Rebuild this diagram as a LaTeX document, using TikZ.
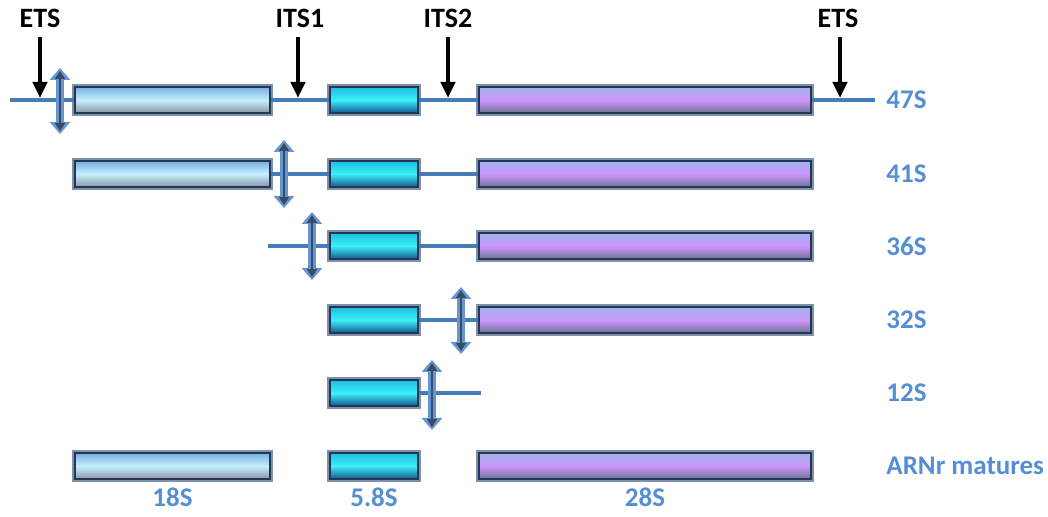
\documentclass[tikz,border=0pt]{standalone}
\usepackage{fontspec}
\setmainfont{Carlito}
\usetikzlibrary{arrows.meta, positioning}
\definecolor{cLine}{RGB}{70,125,185}
\definecolor{cLabel}{RGB}{85,142,213}
\definecolor{cEdge}{RGB}{35,55,85}
\definecolor{cRim}{RGB}{125,145,170}
\definecolor{cCleave}{RGB}{100,150,210}
\definecolor{cCore}{RGB}{55,75,100}
\definecolor{cTopA}{RGB}{120,175,225}
\definecolor{cMidA}{RGB}{195,240,255}
\definecolor{cBotA}{RGB}{140,148,165}
\definecolor{cTopB}{RGB}{30,190,225}
\definecolor{cMidB}{RGB}{60,240,248}
\definecolor{cBotB}{RGB}{20,85,145}
\definecolor{cTopC}{RGB}{160,180,235}
\definecolor{cMidC}{RGB}{205,150,252}
\definecolor{cBotC}{RGB}{110,115,150}
\tikzset{
	rbox/.style   ={rectangle, draw=cEdge, line width=1pt, minimum height=13pt, inner sep=0pt, preaction={draw=cRim, line width=2.6pt}},
	r18/.style    ={rbox, minimum width=97.5pt, top color=cTopA, bottom color=cBotA, middle color=cMidA},
	r58/.style    ={rbox, minimum width=44pt, top color=cTopB, bottom color=cBotB, middle color=cMidB},
	r28/.style    ={rbox, minimum width=166pt, top color=cTopC, bottom color=cBotC, middle color=cMidC},
	spacer/.style ={line width=2pt, cLine},
	cut/.style    ={-{Triangle[width=7pt, length=8pt]}, line width=2pt, black},
	rowlbl/.style ={anchor=west, text=cLabel, font=\fontsize{13.5}{16}\selectfont\bfseries, inner sep=0pt},
	rnalbl/.style ={text=cLabel, font=\fontsize{13.5}{16}\selectfont\bfseries, inner sep=0pt},
	toplbl/.style ={text=black, font=\fontsize{14}{16}\selectfont\bfseries, inner sep=0pt},
}
\begin{document}
\begin{tikzpicture}[x=0.5pt, y=-0.5pt]
	\useasboundingbox (0,0) rectangle (1048,517);
	% 47S
	\coordinate (p1l) at (10,100);
	\coordinate (p1r) at (875,100);
	\node[r18] (r1a) at (172.5,100) {};
	\node[r58] (r1b) at (374,100) {};
	\node[r28] (r1c) at (645,100) {};
	\draw[spacer] (p1l) -- (r1a.west) (r1a.east) -- (r1b.west) (r1b.east) -- (r1c.west) (r1c.east) -- (p1r);
	% 41S
	\node[r18] (r2a) at (172.5,174) {};
	\node[r58] (r2b) at (374,174) {};
	\node[r28] (r2c) at (645,174) {};
	\draw[spacer] (r2a.east) -- (r2b.west) (r2b.east) -- (r2c.west);
	% 36S
	\coordinate (p3l) at (268,246);
	\node[r58] (r3b) at (374,246) {};
	\node[r28] (r3c) at (645,246) {};
	\draw[spacer] (p3l) -- (r3b.west) (r3b.east) -- (r3c.west);
	% 32S
	\node[r58] (r4b) at (374,320) {};
	\node[r28] (r4c) at (645,320) {};
	\draw[spacer] (r4b.east) -- (r4c.west);
	% 12S
	\coordinate (p5r) at (481,393);
	\node[r58] (r5b) at (374,393) {};
	\draw[spacer] (r5b.east) -- (p5r);
	% mature rRNAs
	\node[r18] (r6a) at (172.5,466) {};
	\node[r58] (r6b) at (374,466) {};
	\node[r28] (r6c) at (645,466) {};
	\node[rnalbl] (l18) at (172.5,497) {18S};
	\node[rnalbl] (l58) at (374,497) {5.8S};
	\node[rnalbl] (l28) at (645,497) {28S};
	% row labels
	\node[rowlbl] (n47) at (886,100) {47S};
	\node[rowlbl] (n41) at (886,174) {41S};
	\node[rowlbl] (n36) at (886,246) {36S};
	\node[rowlbl] (n32) at (886,320) {32S};
	\node[rowlbl] (n12) at (886,393) {12S};
	\node[rowlbl] (nmat) at (886,466) {ARNr matures};
	% spacers on top
	\node[toplbl] (ets5) at (40,18) {ETS};
	\node[toplbl] (its1) at (300,18) {ITS1};
	\node[toplbl] (its2) at (448,18) {ITS2};
	\node[toplbl] (ets3) at (838,18) {ETS};
	\coordinate (q1) at (40,98);
	\coordinate (q2) at (298,98);
	\coordinate (q3) at (448,98);
	\coordinate (q4) at (840,98);
	\draw[cut] (40,37) -- (q1);
	\draw[cut] (298,37) -- (q2);
	\draw[cut] (448,37) -- (q3);
	\draw[cut] (840,37) -- (q4);
	% cleavage sites
	\foreach \x/\ya/\yb in {60/68/134, 284/140/208, 312/212/280, 461/287/354, 432/360/430} {
		\draw[line width=3.8pt, cCleave, {Triangle[width=10pt, length=6pt]}-{Triangle[width=10pt, length=6pt]}] (\x,\ya) -- (\x,\yb);
		\draw[line width=1.2pt, cCore, {Triangle[width=5pt, length=4pt]}-{Triangle[width=5pt, length=4pt]}] (\x,\ya+3) -- (\x,\yb-3);
	}
\end{tikzpicture}
\end{document}
